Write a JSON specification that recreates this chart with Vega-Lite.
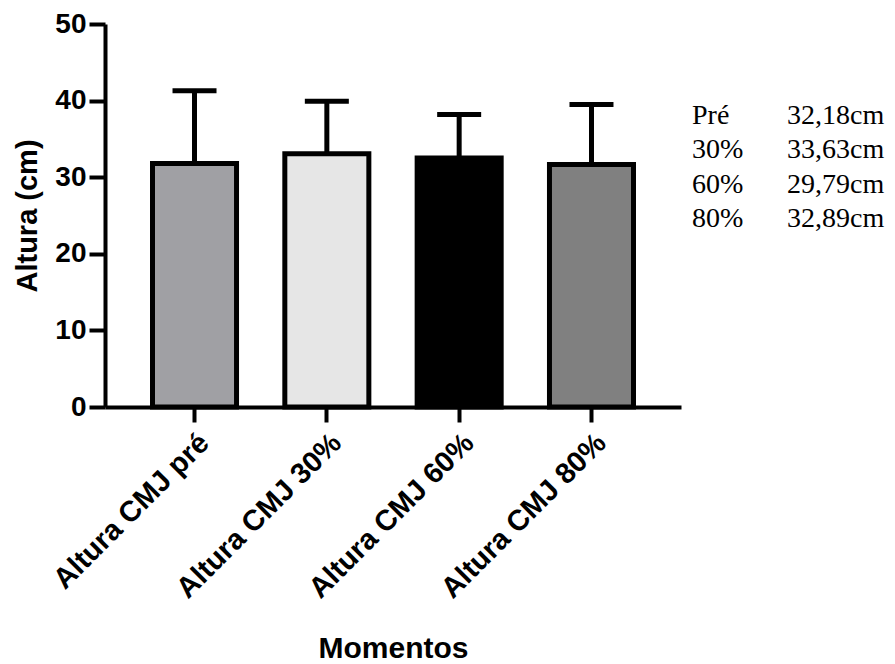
{
  "$schema": "https://vega.github.io/schema/vega-lite/v6.json",
  "background": "white",
  "padding": {"left": 13, "top": 10, "right": 0, "bottom": 0},
  "bounds": "flush",
  "spacing": 10,
  "config": {"view": {"stroke": null}, "font": "Liberation Sans"},
  "hconcat": [
    {
      "width": 576,
      "height": 383,
      "data": {"values": [
        {"cat": "Altura CMJ pré", "mean": 31.8, "upper": 41.3},
        {"cat": "Altura CMJ 30%", "mean": 33.05, "upper": 39.9},
        {"cat": "Altura CMJ 60%", "mean": 32.5, "upper": 38.2},
        {"cat": "Altura CMJ 80%", "mean": 31.65, "upper": 39.5}
      ]},
      "encoding": {
        "x": {
          "field": "cat", "type": "nominal", "sort": null,
          "scale": {"paddingInner": 0.365, "paddingOuter": 0.359},
          "axis": {
            "title": "Momentos", "labelAngle": -45, "labelLimit": 0,
            "labelFont": "Liberation Sans", "labelFontWeight": "bold", "labelFontSize": 29, "labelColor": "black",
            "domainColor": "black", "domainWidth": 4, "tickColor": "black", "tickWidth": 4, "tickSize": 15,
            "labelPadding": 6,
            "titleFont": "Liberation Sans", "titleFontSize": 30, "titleFontWeight": "bold", "titleColor": "black",
            "titleY": 250, "titleBaseline": "alphabetic"
          }
        }
      },
      "layer": [
        {
          "mark": {"type": "rule", "strokeWidth": 5, "color": "black"},
          "encoding": {
            "y": {
              "field": "mean", "type": "quantitative",
              "scale": {"domain": [0, 50], "nice": false, "zero": true},
              "axis": {
                "title": "Altura (cm)", "values": [0, 10, 20, 30, 40, 50], "grid": false,
                "labelFont": "Liberation Sans", "labelFontWeight": "bold", "labelFontSize": 28, "labelColor": "black",
                "domainColor": "black", "domainWidth": 4, "tickColor": "black", "tickWidth": 4, "tickSize": 16,
                "labelPadding": 3,
                "titleFont": "Liberation Sans", "titleFontSize": 29, "titleFontWeight": "bold", "titleColor": "black",
                "titlePadding": 12
              }
            },
            "y2": {"field": "upper"}
          }
        },
        {
          "mark": {"type": "tick", "thickness": 5, "size": 44, "color": "black", "orient": "horizontal", "opacity": 1},
          "encoding": {"y": {"field": "upper", "type": "quantitative"}}
        },
        {
          "mark": {"type": "bar", "stroke": "black", "strokeWidth": 5, "opacity": 1},
          "encoding": {
            "y": {"field": "mean", "type": "quantitative"},
            "fill": {
              "field": "cat", "type": "nominal", "legend": null,
              "scale": {
                "domain": ["Altura CMJ pré", "Altura CMJ 30%", "Altura CMJ 60%", "Altura CMJ 80%"],
                "range": ["#A0A0A4", "#E6E6E6", "#000000", "#808080"]
              }
            }
          }
        }
      ]
    },
    {
      "width": 200,
      "height": 383,
      "data": {"values": [
        {"row": 1, "col": "a", "label": "Pré"},
        {"row": 1, "col": "b", "label": "32,18cm"},
        {"row": 2, "col": "a", "label": "30%"},
        {"row": 2, "col": "b", "label": "33,63cm"},
        {"row": 3, "col": "a", "label": "60%"},
        {"row": 3, "col": "b", "label": "29,79cm"},
        {"row": 4, "col": "a", "label": "80%"},
        {"row": 4, "col": "b", "label": "32,89cm"}
      ]},
      "mark": {"type": "text", "font": "Liberation Serif", "fontSize": 28, "align": "left", "baseline": "alphabetic", "color": "black"},
      "encoding": {
        "x": {"field": "col", "type": "nominal", "scale": {"type": "point", "range": [1, 96], "padding": 0}, "axis": null},
        "y": {"field": "row", "type": "ordinal", "scale": {"type": "point", "range": [100, 203], "padding": 0}, "axis": null},
        "text": {"field": "label"}
      }
    }
  ]
}
